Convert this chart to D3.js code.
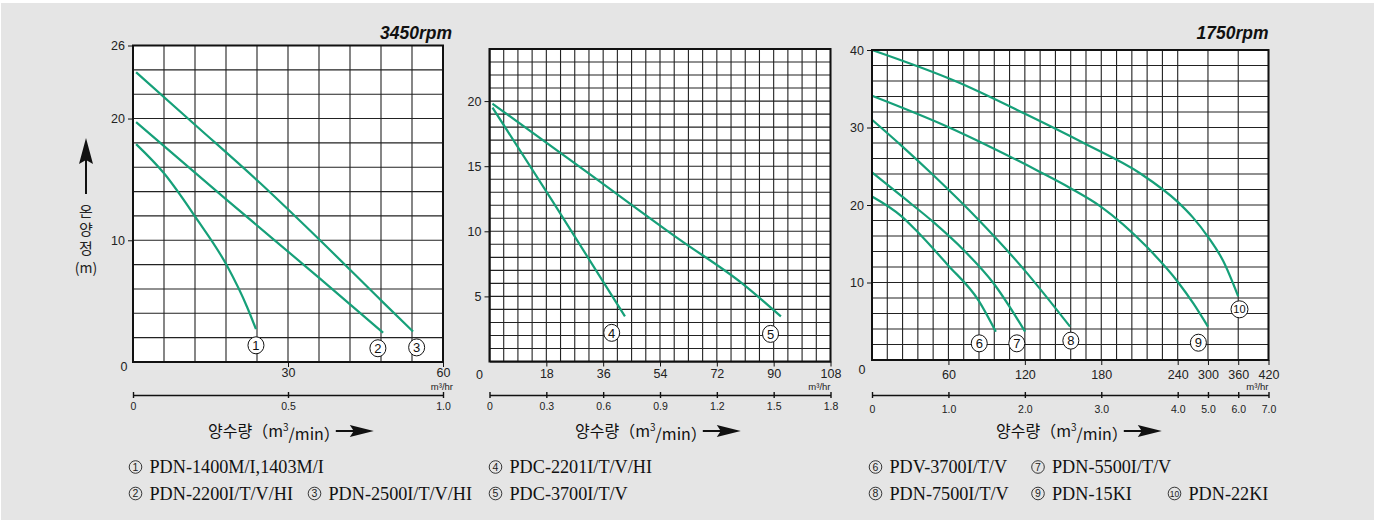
<!DOCTYPE html>
<html>
<head>
<meta charset="utf-8">
<script src="https://cdn.jsdelivr.net/npm/d3@7"></script>
<style>
body{margin:0;background:#fff;}
svg{display:block;}
</style>
</head>
<body>
<div class="chart"></div>
<script>
//Basic settings
const W = 1375, H = 522;
const GREEN = '#16a079';
const SANS = '"Liberation Sans", Arial, Helvetica, sans-serif';
const KR = '"Noto Sans CJK KR", "Noto Sans", sans-serif';
const SERIF = '"Liberation Serif", "Times New Roman", serif';

//Curves: [flow m3/hr, head m]
//3450rpm
const curve1 = [[0.6,17.9],[6,15.5],[12.1,11.9],[18.2,7.9],[22.1,4.5],[23.8,2.7]];
const curve2 = [[0.6,19.7],[18.2,13.3],[36.2,6.85],[48.4,2.4]];
const curve3 = [[0.6,23.8],[12.1,19.45],[24.6,14.7],[36.2,10.0],[48.4,4.9],[54.2,2.5]];
//middle chart
const curve4 = [[0.95,19.5],[20,12.3],[42.9,3.46]];
const curve5 = [[0.95,19.8],[30,14.7],[60,9.4],[80,6.0],[92.3,3.46]];
//1750rpm
const curve6 = [[0,21.1],[23.5,18.5],[35.3,16.6],[59.3,12.3],[83.6,7.7],[97.2,3.66]];
const curve7 = [[0,24.2],[23.5,21.1],[47.8,17.85],[71.9,14.2],[95.4,9.9],[120.2,3.66]];
const curve8 = [[0,31],[23.5,27.6],[47.8,23.9],[83.6,18.1],[119.7,11.6],[155.5,4.3]];
const curve9 = [[0,34.1],[59.3,30.1],[95.4,27.3],[131.5,24.3],[155.5,22.2],[179.6,19.8],[215.7,14.6],[240,10.1],[271,7.3],[300,4.3]];
const curve10 = [[0,40],[66.7,35.9],[119.7,31.8],[167.3,27.9],[210.4,24.1],[240,20.4],[270,18.4],[300,15.9],[330,12.8],[360,8.2]];

//where the circled numbers sit, in data units
const marks1 = [[23.8,1.37],[47.4,1.13],[54.9,1.2]];
const marks2 = [[38.7,2.2],[89.0,2.12]];
const marks3 = [[84.2,2.15],[113.7,2.15],[156.1,2.5],[281,2.23],[362.5,6.54]];

//Tick labels
const hrTicks1 = [30, 60];
const hrTicks2 = [18, 36, 54, 72, 90, 108];
const hrTicks3 = [60, 120, 180, 240, 300, 360, 420];
const minTicks1 = [0, 0.5, 1.0];
const minTicks2 = [0, 0.3, 0.6, 0.9, 1.2, 1.5, 1.8];
const minTicks3 = [0, 1, 2, 3, 4, 5, 6, 7];
const headTicks1 = [10, 20, 26];
const headTicks2 = [5, 10, 15, 20];
const headTicks3 = [10, 20, 30, 40];

//Legend names
const legend1 = ['PDN-1400M/I,1403M/I', 'PDN-2200I/T/V/HI', 'PDN-2500I/T/V/HI'];
const legend2 = ['PDC-2201I/T/V/HI', 'PDC-3700I/T/V'];
const legend3 = ['PDV-3700I/T/V', 'PDN-5500I/T/V', 'PDN-7500I/T/V', 'PDN-15KI', 'PDN-22KI'];
const rpmTitles = ['3450rpm', '', '1750rpm'];

//Grid steps
const xGrid1 = d3.range(0, 61, 6);
const yGrid1 = d3.range(0, 27, 2);
const xGrid2 = d3.range(0, 108.1, 4.5);
const yGrid2 = d3.range(0, 25, 1);
const xGrid3 = d3.range(0, 241, 12).concat([300, 360, 420]);
const yGrid3 = d3.range(0, 41, 2);

//Panel tables built from the arrays above
const panels = [
	{curves:[curve1,curve2,curve3], marks:marks1, firstNum:1, hr:hrTicks1, mins:minTicks1, heads:headTicks1,
		legend:legend1, rpm:rpmTitles[0], xGrid:xGrid1, yGrid:yGrid1, xDomain:[0,60], yMax:26},
	{curves:[curve4,curve5], marks:marks2, firstNum:4, hr:hrTicks2, mins:minTicks2, heads:headTicks2,
		legend:legend2, rpm:rpmTitles[1], xGrid:xGrid2, yGrid:yGrid2, xDomain:[0,108], yMax:24},
	{curves:[curve6,curve7,curve8,curve9,curve10], marks:marks3, firstNum:6, hr:hrTicks3, mins:minTicks3, heads:headTicks3,
		legend:legend3, rpm:rpmTitles[2], xGrid:xGrid3, yGrid:yGrid3, xDomain:[0,240,420], yMax:40}
];

//Layout (pixels)
const layout = [
	{l:133, r:443, t:45.5, b:362, brk:null, hrPad:1, unitDx:10, zeroDx:-9, zeroDy:5, minPad:5, titleX:208,
		rows:[[0],[1,2]], cols:[0,179], legendX:129},
	{l:489.5, r:830.5, t:49, b:361.5, brk:null, hrPad:3, unitDx:0, zeroDx:-10, zeroDy:13, minPad:5, titleX:575,
		rows:[[0],[1]], cols:[0], legendX:489},
	{l:872, r:1268.5, t:50, b:360, brk:0.771, hrPad:5, unitDx:0, zeroDx:-10, zeroDy:10, minPad:8, titleX:996,
		rows:[[0,1],[2,3,4]], cols:[0,162.5,299], legendX:869}
];

const svg = d3.select('.chart')
	.append('svg')
		.attr('width', W)
		.attr('height', H);

svg.append('rect')
	.attr('x', 1).attr('y', 3)
	.attr('width', W - 2).attr('height', H - 5)
	.attr('fill', '#e5e5e5');

panels.forEach(function(P, i){ drawPanel(P, layout[i]); });
drawHeadLabel();

function drawPanel(P, L){

	const g = svg.append('g');
	const xRange = L.brk === null ? [L.l, L.r] : [L.l, L.l + (L.r - L.l) * L.brk, L.r];
	const x = d3.scaleLinear().domain(P.xDomain).range(xRange);
	const y = d3.scaleLinear().domain([0, P.yMax]).range([L.b, L.t]);
	const xMin = d3.scaleLinear().domain(P.xDomain.map(function(d){return d/60;})).range(xRange);

	//plot area
	g.append('rect')
		.attr('x', L.l).attr('y', L.t)
		.attr('width', L.r - L.l).attr('height', L.b - L.t)
		.attr('fill', '#fff');

	//grid
	g.selectAll('.vgrid').data(P.xGrid).join('line')
		.attr('class', 'vgrid')
		.attr('x1', function(d){return x(d);}).attr('x2', function(d){return x(d);})
		.attr('y1', L.t).attr('y2', L.b)
		.attr('stroke', '#222').attr('stroke-width', 1.1);
	g.selectAll('.hgrid').data(P.yGrid).join('line')
		.attr('class', 'hgrid')
		.attr('y1', function(d){return y(d);}).attr('y2', function(d){return y(d);})
		.attr('x1', L.l).attr('x2', L.r)
		.attr('stroke', '#222').attr('stroke-width', 1.1);

	//curves
	const line = d3.line()
		.x(function(d){return x(d[0]);})
		.y(function(d){return y(d[1]);})
		.curve(d3.curveMonotoneX);
	g.selectAll('.curve').data(P.curves).join('path')
		.attr('class', 'curve')
		.attr('d', line)
		.attr('fill', 'none')
		.attr('stroke', GREEN)
		.attr('stroke-width', 2.2);

	//frame
	g.append('rect')
		.attr('x', L.l).attr('y', L.t)
		.attr('width', L.r - L.l).attr('height', L.b - L.t)
		.attr('fill', 'none')
		.attr('stroke', '#111').attr('stroke-width', 2);

	//circled numbers on the curves
	const nums = g.selectAll('.num').data(P.marks).join('g')
		.attr('class', 'num')
		.attr('transform', function(d){return `translate(${x(d[0])},${y(d[1])})`;});
	nums.append('ellipse')
		.attr('rx', function(d, j){return P.firstNum + j >= 10 ? 8.5 : 8;})
		.attr('ry', 8.5)
		.attr('fill', '#fff').attr('stroke', '#111').attr('stroke-width', 1);
	nums.append('text')
		.attr('text-anchor', 'middle')
		.attr('dy', '0.36em')
		.attr('font-family', SANS)
		.attr('font-size', function(d, j){return P.firstNum + j >= 10 ? 11 : 13;})
		.attr('fill', '#111')
		.text(function(d, j){return P.firstNum + j;});

	//head axis
	g.append('g')
		.attr('transform', `translate(${L.l},0)`)
		.call(d3.axisLeft(y).tickValues(P.heads).tickSize(5).tickPadding(3).tickSizeOuter(0))
		.call(styleAxis, 12.5);

	//m3/hr axis
	g.append('g')
		.attr('transform', `translate(0,${L.b})`)
		.call(d3.axisBottom(x).tickValues(P.hr).tickSize(5).tickPadding(L.hrPad).tickSizeOuter(0))
		.call(styleAxis, 12.5);

	g.append('text')
		.attr('x', L.l + L.zeroDx).attr('y', L.b + L.zeroDy)
		.attr('text-anchor', 'middle').attr('dy', '0.35em')
		.attr('font-family', SANS).attr('font-size', 12.5).attr('fill', '#222')
		.text('0');

	g.append('text')
		.attr('x', L.r + L.unitDx).attr('y', 390)
		.attr('text-anchor', 'end')
		.attr('font-family', SANS).attr('font-size', 9.5).attr('fill', '#222')
		.text('m³/hr');

	//m3/min axis
	const minAxis = g.append('g')
		.attr('transform', 'translate(0,395)')
		.call(d3.axisBottom(xMin).tickValues(P.mins).tickSize(3).tickPadding(L.minPad).tickSizeOuter(0)
			.tickFormat(function(d){return d === 0 ? '0' : d3.format('.1f')(d);}))
		.call(styleAxis, 10.5);
	minAxis.select('.domain').attr('stroke-width', 1.6).attr('stroke', '#111');
	minAxis.selectAll('.tick line').attr('y1', -3).attr('stroke-width', 1.4);

	//flow title with arrow
	const title = g.append('text')
		.attr('x', L.titleX).attr('y', 431)
		.attr('dy', '0.35em')
		.attr('font-family', KR).attr('font-size', 16).attr('fill', '#111');
	title.append('tspan').text('양수량（m');
	title.append('tspan').attr('font-size', 10).attr('dy', '-0.6em').text('3');
	title.append('tspan').attr('dy', '0.6em').text('/min）');
	const tEnd = L.titleX + title.node().getComputedTextLength();
	drawArrowRight(g, tEnd - 4, 431);

	//rpm
	if(P.rpm){
		g.append('text')
			.attr('x', L.r + (L.brk === null ? 9 : 0)).attr('y', 39)
			.attr('text-anchor', 'end')
			.attr('font-family', SANS).attr('font-size', 17.5)
			.attr('font-weight', 'bold').attr('font-style', 'italic')
			.attr('fill', '#111')
			.text(P.rpm);
	}

	//legend
	L.rows.forEach(function(row, r){
		row.forEach(function(idx, c){
			const lx = L.legendX + L.cols[c];
			const ly = 467 + r * 26.5;
			const n = P.firstNum + idx;
			g.append('circle')
				.attr('cx', lx + 6.5).attr('cy', ly)
				.attr('r', 6.3)
				.attr('fill', 'none').attr('stroke', '#222').attr('stroke-width', 0.9);
			g.append('text')
				.attr('x', lx + 6.5).attr('y', ly)
				.attr('dy', '0.36em').attr('text-anchor', 'middle')
				.attr('font-family', SANS).attr('font-size', n >= 10 ? 8.5 : 10.5)
				.attr('fill', '#222')
				.text(n);
			g.append('text')
				.attr('x', lx + 20.5).attr('y', ly)
				.attr('dy', '0.34em')
				.attr('font-family', SERIF).attr('font-size', 18.2)
				.attr('fill', '#111')
				.text(P.legend[idx]);
		});
	});

}

function styleAxis(sel, size){
	sel.select('.domain').attr('stroke', '#111');
	sel.selectAll('.tick line').attr('stroke', '#111');
	sel.selectAll('.tick text')
		.attr('font-family', SANS)
		.attr('font-size', size)
		.attr('fill', '#222');
}

function drawArrowRight(sel, x0, y0){
	sel.append('line')
		.attr('x1', x0).attr('x2', x0 + 20)
		.attr('y1', y0).attr('y2', y0)
		.attr('stroke', '#111').attr('stroke-width', 2);
	sel.append('path')
		.attr('d', `M${x0 + 14},${y0 - 6}L${x0 + 38},${y0}L${x0 + 14},${y0 + 6}L${x0 + 18},${y0}Z`)
		.attr('fill', '#111');
}

function drawHeadLabel(){
	const cx = 86;
	const g = svg.append('g');
	g.append('line')
		.attr('x1', cx).attr('x2', cx)
		.attr('y1', 194).attr('y2', 158)
		.attr('stroke', '#111').attr('stroke-width', 2);
	g.append('path')
		.attr('d', `M${cx},138L${cx + 7},164L${cx},160L${cx - 7},164Z`)
		.attr('fill', '#111');
	['온', '양', '정'].forEach(function(ch, i){
		g.append('text')
			.attr('x', cx).attr('y', 211.5 + i * 18.5)
			.attr('dy', '0.36em').attr('text-anchor', 'middle')
			.attr('font-family', KR).attr('font-size', 15)
			.attr('fill', '#222')
			.text(ch);
	});
	g.append('text')
		.attr('x', cx).attr('y', 268)
		.attr('dy', '0.36em').attr('text-anchor', 'middle')
		.attr('font-family', KR).attr('font-size', 14)
		.attr('fill', '#222')
		.text('(m)');
}
</script>
</body>
</html>
